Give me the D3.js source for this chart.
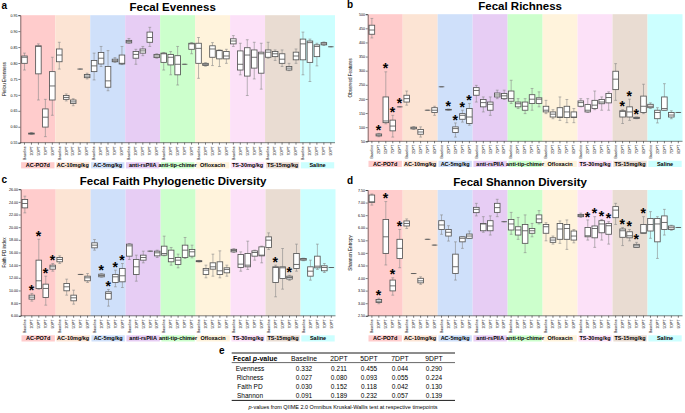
<!DOCTYPE html>
<html><head><meta charset="utf-8">
<script src="https://cdn.jsdelivr.net/npm/d3@7"></script>
<style>
body{margin:0;background:#fff}
svg{display:block;font-family:"Liberation Sans",Arial,sans-serif}
</style>
</head><body>
<svg id="chart" width="685" height="413"></svg>
<script>
const groups = ["AC-PO7d","AC-10mg/kg","AC-5mg/kg","anti-rsPIIA","anti-tip-chimer","Ofloxacin","TS-30mg/kg","TS-15mg/kg","Saline"];
const groupColors = ["#ffcccc","#fce4d4","#cfe0fa","#e7cdf4","#ccffcc","#fff3dc","#fce1f8","#e9dcd2","#ccffff"];
const timepoints = ["Baseline","2DPT","5DPT","7DPT","9DPT"];

// each entry: [whisker min, Q1, median, Q3, whisker max]; 9 groups x 5 timepoints
const evenness = [
[0.778,0.799,0.818,0.822,0.831],[0.576,0.577,0.579,0.580,0.582],[0.684,0.766,0.852,0.854,0.860],[0.569,0.599,0.630,0.656,0.686],[0.636,0.684,0.728,0.773,0.818],
[0.781,0.804,0.825,0.844,0.865],[0.681,0.686,0.692,0.698,0.703],[0.666,0.673,0.678,0.684,0.688],[0.781,0.781,0.781,0.781,0.781],[0.750,0.754,0.759,0.764,0.768],
[0.747,0.773,0.791,0.808,0.831],[0.789,0.797,0.815,0.833,0.852],[0.713,0.724,0.744,0.789,0.839],[0.802,0.804,0.807,0.812,0.817],[0.795,0.797,0.799,0.825,0.852],
[0.862,0.863,0.867,0.871,0.877],[0.796,0.815,0.827,0.836,0.843],[0.823,0.831,0.838,0.844,0.852],[0.852,0.865,0.880,0.897,0.912],[0.815,0.817,0.822,0.827,0.829],
[0.778,0.802,0.829,0.831,0.833],[0.763,0.794,0.818,0.827,0.836],[0.731,0.763,0.796,0.823,0.852],[0.796,0.796,0.796,0.796,0.796],[0.829,0.843,0.860,0.862,0.864],
[0.752,0.799,0.846,0.862,0.880],[0.790,0.792,0.796,0.799,0.801],[0.792,0.818,0.844,0.854,0.864],[0.789,0.813,0.839,0.840,0.841],[0.799,0.813,0.822,0.836,0.843],
[0.852,0.860,0.869,0.876,0.886],[0.763,0.778,0.796,0.838,0.862],[0.698,0.759,0.825,0.848,0.873],[0.750,0.784,0.818,0.841,0.865],[0.718,0.768,0.829,0.834,0.862],
[0.815,0.818,0.834,0.841,0.865],[0.808,0.820,0.829,0.836,0.841],[0.789,0.799,0.812,0.829,0.841],[0.776,0.778,0.784,0.789,0.799],[0.799,0.810,0.822,0.834,0.844],
[0.763,0.810,0.860,0.875,0.897],[0.742,0.802,0.864,0.869,0.875],[0.791,0.820,0.852,0.857,0.862],[0.855,0.857,0.860,0.864,0.866],[0.851,0.851,0.851,0.851,0.851]
];
const richness = [
[416,429,444,461,485],[66,69,72,76,78],[112,116,122,207,296],[65,87,104,125,142],[172,172,172,172,172],
[178,189,201,213,228],[92,94,97,100,102],[65,75,83,92,101],[160,160,160,160,160],[142,152,160,169,174],
[243,243,243,243,243],[160,161,162,163,164],[65,81,95,101,115],[118,128,142,148,160],[107,113,136,166,184],
[189,213,230,240,248],[154,172,187,198,207],[142,160,181,189,207],[201,207,214,221,231],[198,201,211,219,231],
[184,192,201,228,266],[166,172,183,189,201],[148,160,174,189,201],[160,184,199,215,237],[172,184,199,204,225],
[148,154,160,174,195],[130,136,146,154,162],[124,134,136,169,207],[116,134,154,174,198],[116,134,136,154,166],
[172,174,187,193,201],[152,154,160,180,201],[162,166,178,195,228],[160,183,189,198,207],[160,186,205,219,225],
[195,233,270,298,325],[113,136,156,158,162],[124,136,154,172,199],[130,131,133,135,136],[148,152,174,210,252],
[166,169,174,181,186],[115,130,152,160,169],[160,160,166,207,254],[130,136,143,152,158],[152,152,152,152,152]
];
const faith = [
[22.26,23.05,23.74,24.37,24.9],[8.32,8.63,8.95,9.26,9.53],[10.2,10.3,11.53,14.79,18.1],[7.68,8.9,10.32,11.0,12.26],[13.05,13.37,13.74,14.0,14.26],
[14.26,14.53,14.9,15.21,15.47],[9.26,9.95,10.58,11.1,11.79],[7.84,8.37,8.84,9.26,10.05],[12.53,12.53,12.53,12.53,12.53],[11.26,11.53,12.0,12.26,12.68],
[16.37,16.74,17.16,17.53,18.05],[12.1,12.16,12.37,12.58,12.65],[7.53,8.63,9.53,9.79,10.16],[10.58,11.26,12.16,12.53,13.21],[10.47,11.37,12.32,13.47,14.26],
[14.89,15.42,17.05,17.32,17.42],[11.47,12.53,13.74,14.89,15.58],[14.37,14.79,15.21,15.58,16.21],[16.21,16.21,16.21,16.21,16.21],[15.21,15.47,15.95,16.21,16.37],
[15.47,15.58,15.84,17.0,18.58],[14.0,14.53,15.05,16.37,16.79],[13.58,14.11,14.79,15.21,15.74],[15.05,15.21,16.37,17.16,18.37],[15.16,15.42,16.11,16.47,17.16],
[14.5,14.55,14.63,14.7,14.75],[12.0,12.53,13.21,13.47,14.0],[12.26,13.37,13.74,14.37,15.74],[12.0,12.53,13.11,14.53,16.26],[12.26,12.79,13.32,13.58,14.0],
[16.0,16.1,16.32,16.5,16.6],[13.05,13.63,14.16,15.68,16.1],[13.32,13.74,14.0,15.84,17.79],[14.79,15.42,16.0,16.26,16.37],[14.37,15.47,15.58,16.89,17.0],
[16.47,16.79,17.95,18.47,19.1],[9.0,11.26,13.63,13.74,14.0],[10.21,11.9,13.58,13.74,16.63],[11.6,11.8,12.05,12.26,12.4],[13.05,13.47,14.11,15.84,17.32],
[14.7,14.79,14.95,15.05,15.1],[11.63,12.26,13.05,13.74,14.79],[13.32,13.58,13.84,15.42,17.32],[12.84,13.11,13.63,13.9,14.26],[13.63,13.63,13.63,13.63,13.63]
];
const shannon = [
[6.90,7.01,7.03,7.30,7.34],[2.98,3.03,3.08,3.15,3.20],[4.52,4.98,5.64,6.33,7.04],[3.32,3.49,3.69,3.92,4.01],[4.41,4.78,5.18,5.54,5.93],
[5.97,6.07,6.17,6.27,6.35],[4.18,4.18,4.18,4.18,4.18],[3.75,3.81,3.89,3.99,4.05],[5.54,5.54,5.54,5.54,5.54],[5.31,5.31,5.31,5.31,5.31],
[5.74,5.93,6.11,6.28,6.51],[5.47,5.67,5.82,5.93,6.08],[3.92,4.18,4.45,4.95,5.44],[5.18,5.44,5.58,5.64,5.64],[5.58,5.58,5.67,5.75,5.87],
[6.47,6.60,6.73,6.81,6.97],[5.82,5.88,6.15,6.17,6.44],[5.71,5.88,6.07,6.28,6.47],[6.44,6.61,6.80,6.97,7.13],[6.24,6.24,6.24,6.24,6.24],
[5.74,5.91,6.15,6.33,6.61],[5.54,5.71,5.91,6.04,6.41],[5.01,5.38,5.88,6.13,6.51],[5.64,5.78,5.88,5.97,6.17],[6.15,6.20,6.35,6.51,6.68],
[5.48,5.78,6.04,6.13,6.20],[5.35,5.42,5.51,5.60,5.67],[5.38,5.54,5.95,6.17,6.27],[5.14,5.54,5.97,6.13,6.31],[5.40,5.51,5.67,5.87,5.93],
[6.41,6.44,6.48,6.53,6.58],[5.51,5.64,5.68,6.01,6.31],[5.22,5.60,5.97,6.07,6.44],[5.51,5.80,6.15,6.28,6.33],[5.35,5.74,6.08,6.17,6.24],
[6.13,6.40,6.70,6.84,6.97],[5.29,5.62,5.88,5.95,6.01],[5.48,5.60,5.68,5.84,5.93],[5.22,5.22,5.28,5.34,5.42],[5.78,5.78,5.80,6.13,6.44],
[5.58,5.87,6.13,6.37,6.64],[4.78,5.44,6.15,6.37,6.44],[5.71,5.93,6.21,6.47,6.73],[5.90,5.93,6.00,6.07,6.10],[6.01,6.01,6.01,6.01,6.01]
];
// significance stars (index = group*5 + timepoint)
const starsEvenness = [];
const starsRichness = [1,2,3,4,11,12,13,14,36,37,38];
const starsFaith = [1,2,3,4,11,12,13,14,36,38];
const starsShannon = [1,2,3,4,31,32,33,34,36,37,38,39];

const evennessTicks = [0.55,0.60,0.65,0.70,0.75,0.80,0.85,0.90,0.95];
const richnessTicks = [50,100,150,200,250,300,350,400,450,500];
const faithTicks = [6,8,10,12,14,16,18,20,22,24,26];
const shannonTicks = [2.5,3,3.5,4,4.5,5,5.5,6,6.5,7,7.5];

const tableMetrics = ["Evenness","Richness","Faith PD","Shannon"];
const tableTimepoints = ["Baseline","2DPT","5DPT","7DPT","9DPT"];
const pEvenness = [0.332,0.211,0.455,0.044,0.290];
const pRichness = [0.027,0.080,0.093,0.055,0.224];
const pFaith = [0.030,0.152,0.118,0.042,0.130];
const pShannon = [0.091,0.189,0.232,0.057,0.139];

const svg = d3.select("#chart");
const FONT = '"Liberation Sans",Arial,sans-serif';

const panels = [
 {letter:"a", title:"Fecal Evenness", ylabel:"Pielou Evenness", data:evenness, ticks:evennessTicks, fmt:d3.format(".2f"), stars:starsEvenness, x0:20.3, x1:335, yTop:15.2, yBot:142.7, ylx:6},
 {letter:"b", title:"Fecal Richness", ylabel:"Observed Features", data:richness, ticks:richnessTicks, fmt:d3.format("d"), stars:starsRichness, x0:367.7, x1:682.5, yTop:14.2, yBot:141.3, ylx:352},
 {letter:"c", title:"Fecal Faith Phylogenetic Diversity", ylabel:"Faith PD index", data:faith, ticks:faithTicks, fmt:d3.format(".2f"), stars:starsFaith, x0:20.7, x1:335.5, yTop:189.2, yBot:315.8, ylx:6},
 {letter:"d", title:"Fecal Shannon Diversity", ylabel:"Shannon Entropy", data:shannon, ticks:shannonTicks, fmt:d3.format(".2f"), stars:starsShannon, x0:367.7, x1:682.5, yTop:190, yBot:315.8, ylx:352}
];

panels.forEach(p => {
  const g = svg.append("g");
  const ext = d3.extent(p.ticks);
  const y = d3.scaleLinear().domain(ext).range([p.yBot, p.yTop]);
  const xg = d3.scaleBand().domain(groups).range([p.x0, p.x1]);
  const cats = d3.range(groups.length * timepoints.length);
  const x = d3.scaleBand().domain(cats).range([p.x0, p.x1]).padding(0.2);
  const bw = x.bandwidth();
  const cx = i => x(i) + bw / 2;

  // background bands
  g.selectAll("rect.band").data(groups).join("rect")
    .attr("x", d => xg(d)).attr("y", p.yTop).attr("width", xg.bandwidth()).attr("height", p.yBot - p.yTop)
    .attr("fill", (d, i) => groupColors[i]);

  // whiskers
  const box = g.selectAll("g.box").data(p.data).join("g");
  box.append("line").attr("x1", (d, i) => cx(i)).attr("x2", (d, i) => cx(i))
    .attr("y1", d => y(d[0])).attr("y2", d => y(d[1])).attr("stroke", "#8a8a8a").attr("stroke-width", 0.6);
  box.append("line").attr("x1", (d, i) => cx(i)).attr("x2", (d, i) => cx(i))
    .attr("y1", d => y(d[3])).attr("y2", d => y(d[4])).attr("stroke", "#8a8a8a").attr("stroke-width", 0.6);
  [0, 4].forEach(k => {
    box.append("line").attr("x1", (d, i) => cx(i) - 1.4).attr("x2", (d, i) => cx(i) + 1.4)
      .attr("y1", d => y(d[k])).attr("y2", d => y(d[k])).attr("stroke", "#8a8a8a").attr("stroke-width", 0.6);
  });
  box.append("rect").attr("x", (d, i) => x(i)).attr("width", bw)
    .attr("y", d => y(d[3])).attr("height", d => Math.max(0, y(d[1]) - y(d[3])))
    .attr("fill", "#fff").attr("stroke", "#555").attr("stroke-width", 0.85);
  box.append("line").attr("x1", (d, i) => x(i)).attr("x2", (d, i) => x(i) + bw)
    .attr("y1", d => y(d[2])).attr("y2", d => y(d[2])).attr("stroke", "#555").attr("stroke-width", 0.85);

  // stars
  g.selectAll("text.star").data(p.stars).join("text")
    .attr("x", i => cx(i) - 0.3).attr("y", i => y(p.data[i][4]) + 1.6)
    .attr("text-anchor", "middle").attr("font-size", 14).attr("font-weight", "bold").attr("fill", "#000")
    .text("*");

  // y axis
  const ya = g.append("g").attr("transform", `translate(${p.x0},0)`)
    .call(d3.axisLeft(y).tickValues(p.ticks).tickSize(2).tickFormat(p.fmt));
  ya.selectAll("text").attr("font-size", 3.6).attr("font-family", FONT).attr("x", -2.8);
  ya.selectAll("line,path").attr("stroke", "#000").attr("stroke-width", 0.5);

  // x axis
  const xa = g.append("g").attr("transform", `translate(0,${p.yBot})`)
    .call(d3.axisBottom(x).tickSize(2).tickFormat(i => timepoints[i % timepoints.length]));
  xa.selectAll("text").attr("font-size", 3.6).attr("font-family", FONT)
    .attr("transform", "rotate(-90)").attr("text-anchor", "end")
    .attr("x", -3.5).attr("y", 0).attr("dy", "0.35em");
  xa.selectAll("line,path").attr("stroke", "#000").attr("stroke-width", 0.5);
  xa.select(".domain").attr("d", `M${p.x0},0H${p.x1}`);

  // group labels
  const gl = p.yBot + 19.5;
  g.selectAll("rect.gl").data(groups).join("rect")
    .attr("x", d => xg(d) + 0.8).attr("y", gl).attr("width", xg.bandwidth() - 1.6).attr("height", 6.2)
    .attr("fill", (d, i) => groupColors[i]);
  g.selectAll("text.gl").data(groups).join("text")
    .attr("x", d => xg(d) + xg.bandwidth() / 2).attr("y", gl + 4.9)
    .attr("text-anchor", "middle").attr("font-size", 5.5).attr("font-weight", "bold").text(d => d);

  // y label
  g.append("text").attr("transform", `translate(${p.ylx},${(p.yTop + p.yBot) / 2}) rotate(-90)`)
    .attr("text-anchor", "middle").attr("font-size", 4.6).text(p.ylabel);

  // title and letter
  g.append("text").attr("x", (p.x0 + p.x1) / 2 - 5).attr("y", p.yTop - 4.5)
    .attr("text-anchor", "middle").attr("font-size", 11.5).attr("font-weight", "bold").text(p.title);
  g.append("text").attr("x", p.x0 < 100 ? 1.5 : 347).attr("y", p.yTop - 6)
    .attr("font-size", 10).attr("font-weight", "bold").text(p.letter);
});

// table e
const t = svg.append("g");
const colX = [250, 304, 339, 369, 400, 434];
const tl = 231.7, tr = 455;
t.append("text").attr("x", 219).attr("y", 353.5).attr("font-size", 10).attr("font-weight", "bold").text("e");
[[353, 0.9], [362.6, 0.6], [400.4, 0.9]].forEach(([yy, w]) =>
  t.append("line").attr("x1", tl).attr("x2", tr).attr("y1", yy).attr("y2", yy).attr("stroke", "#000").attr("stroke-width", w));
const hdr = t.append("text").attr("x", 233).attr("y", 360.6).attr("font-size", 7).attr("font-weight", "bold");
hdr.append("tspan").text("Fecal ");
hdr.append("tspan").attr("font-style", "italic").text("p");
hdr.append("tspan").text("-value");
t.selectAll("text.th").data(tableTimepoints).join("text")
  .attr("x", (d, i) => colX[i + 1]).attr("y", 360.6).attr("text-anchor", "middle").attr("font-size", 6.8).text(d => d);
const rowsY = [370.5, 379.8, 388.9, 398.1];
const pRows = [pEvenness, pRichness, pFaith, pShannon];
tableMetrics.forEach((m, r) => {
  t.append("text").attr("x", colX[0]).attr("y", rowsY[r]).attr("text-anchor", "middle").attr("font-size", 6.5).text(m);
  t.selectAll(null).data(pRows[r]).join("text")
    .attr("x", (d, i) => colX[i + 1]).attr("y", rowsY[r]).attr("text-anchor", "middle").attr("font-size", 6.5)
    .text(d => d3.format(".3f")(d));
});
const fn = t.append("text").attr("x", 343).attr("y", 408.6).attr("text-anchor", "middle").attr("font-size", 5.5);
fn.append("tspan").attr("font-style", "italic").text("p");
fn.append("tspan").text("-values from QIIME 2.0 Omnibus Kruskal-Wallis test at respective timepoints");
</script>
</body></html>
